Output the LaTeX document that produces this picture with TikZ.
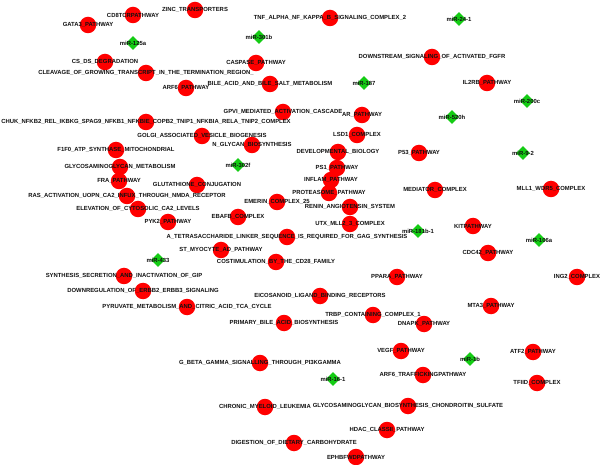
\documentclass[tikz,border=0pt]{standalone}
\usepackage{fontspec}
\setsansfont{Liberation Sans}
\usetikzlibrary{shapes.geometric}
\definecolor{genered}{HTML}{FF0000}
\definecolor{mirgreen}{HTML}{14CC14}
\definecolor{edgeblue}{HTML}{A4A4D4}
\definecolor{ink}{HTML}{111111}
\pgfdeclarelayer{bg}
\pgfsetlayers{bg,main}

% pathways: name/x/y/label
\def\genelist{%
  cdeight/133/15/CD8TCRPATHWAY,
  gata/88/25/GATA3\_PATHWAY,
  csds/105/62/CS\_DS\_DEGRADATION,
  cleav/146/73/CLEAVAGE\_OF\_GROWING\_TRANSCRIPT\_IN\_THE\_TERMINATION\_REGION\_,
  zinc/195/10/ZINC\_TRANSPORTERS,
  tnf/330/18/TNF\_ALPHA\_NF\_KAPPA\_B\_SIGNALING\_COMPLEX\_2,
  casp/256/63/CASPASE\_PATHWAY,
  arfsix/186/88/ARF6\_PATHWAY,
  bile/270/84/BILE\_ACID\_AND\_BILE\_SALT\_METABOLISM,
  gpvi/283/112/GPVI\_MEDIATED\_ACTIVATION\_CASCADE,
  chuk/146/122/CHUK\_NFKB2\_REL\_IKBKG\_SPAG9\_NFKB1\_NFKBIE\_COPB2\_TNIP1\_NFKBIA\_RELA\_TNIP2\_COMPLEX,
  golgi/202/136/GOLGI\_ASSOCIATED\_VESICLE\_BIOGENESIS,
  nglyc/252/145/N\_GLYCAN\_BIOSYNTHESIS,
  ar/362/115/AR\_PATHWAY,
  lsd/357/135/LSD1\_COMPLEX,
  devel/338/152/DEVELOPMENTAL\_BIOLOGY,
  fof/116/150/F1F0\_ATP\_SYNTHASE\_MITOCHONDRIAL,
  gagmet/120/167/GLYCOSAMINOGLYCAN\_METABOLISM,
  fra/119/181/FRA\_PATHWAY,
  glut/197/185/GLUTATHIONE\_CONJUGATION,
  ras/127/196/RAS\_ACTIVATION\_UOPN\_CA2\_INFUX\_THROUGH\_NMDA\_RECEPTOR,
  elev/138/209/ELEVATION\_OF\_CYTOSOLIC\_CA2\_LEVELS,
  pyk/168/222/PYK2\_PATHWAY,
  psone/337/168/PS1\_PATHWAY,
  inflam/331/180/INFLAM\_PATHWAY,
  prot/329/193/PROTEASOME\_PATHWAY,
  renin/350/207/RENIN\_ANGIOTENSIN\_SYSTEM,
  utx/350/224/UTX\_MLL2\_3\_COMPLEX,
  emerin/277/202/EMERIN\_COMPLEX\_25,
  ebaf/238/217/EBAFB\_COMPLEX,
  tetra/287/237/A\_TETRASACCHARIDE\_LINKER\_SEQUENCE\_IS\_REQUIRED\_FOR\_GAG\_SYNTHESIS,
  stmyo/221/250/ST\_MYOCYTE\_AD\_PATHWAY,
  costim/276/262/COSTIMULATION\_BY\_THE\_CD28\_FAMILY,
  synth/124/276/SYNTHESIS\_SECRETION\_AND\_INACTIVATION\_OF\_GIP,
  downreg/143/291/DOWNREGULATION\_OF\_ERBB2\_ERBB3\_SIGNALING,
  pyruv/187/307/PYRUVATE\_METABOLISM\_AND\_CITRIC\_ACID\_TCA\_CYCLE,
  fgfr/432/57/DOWNSTREAM\_SIGNALING\_OF\_ACTIVATED\_FGFR,
  iltwo/487/83/IL2RB\_PATHWAY,
  pfiftythree/419/153/P53\_PATHWAY,
  mediator/435/190/MEDIATOR\_COMPLEX,
  kit/473/226/KITPATHWAY,
  ppara/397/277/PPARA\_PATHWAY,
  mll/551/189/MLL1\_WDR5\_COMPLEX,
  cdc/488/253/CDC42\_PATHWAY,
  ing/577/277/ING2\_COMPLEX,
  eico/320/296/EICOSANOID\_LIGAND\_BINDING\_RECEPTORS,
  trbp/373/315/TRBP\_CONTAINING\_COMPLEX\_1,
  primbile/284/323/PRIMARY\_BILE\_ACID\_BIOSYNTHESIS,
  gbeta/260/363/G\_BETA\_GAMMA\_SIGNALLING\_THROUGH\_PI3KGAMMA,
  cml/265/407/CHRONIC\_MYELOID\_LEUKEMIA,
  digest/294/443/DIGESTION\_OF\_DIETARY\_CARBOHYDRATE,
  ephb/356/457/EPHBFWDPATHWAY,
  gagbio/408/406/GLYCOSAMINOGLYCAN\_BIOSYNTHESIS\_CHONDROITIN\_SULFATE,
  hdac/387/430/HDAC\_CLASSII\_PATHWAY,
  vegf/401/351/VEGF\_PATHWAY,
  arftraf/423/375/ARF6\_TRAFFICKINGPATHWAY,
  dnapk/424/324/DNAPK\_PATHWAY,
  mta/491/306/MTA3\_PATHWAY,
  atf/533/352/ATF2\_PATHWAY,
  tfiid/537/383/TFIID\_COMPLEX}

% microRNAs
\def\mirlist{%
  mira/133/43/miR-125a,
  mirb/259/37/miR-301b,
  mirf/238/165/miR-302f,
  mirc/158/260/miR-433,
  mird/459/19/miR-24-1,
  mire/527/101/miR-200c,
  mirg/452/117/miR-520h,
  mirh/364/83/miR-187,
  miri/523/153/miR-9-2,
  mirj/418/231/miR-181b-1,
  mirk/539/240/miR-106a,
  mirl/333/379/miR-16-1,
  mirm/470/359/miR-1b}

\begin{document}
\begin{tikzpicture}[x=1pt,y=-1pt,
  font=\sffamily\bfseries\fontsize{5.9}{6.5}\selectfont,text=ink,
  gene/.style={circle,fill=genered,minimum size=16.5pt,inner sep=0pt},
  mir/.style={diamond,fill=mirgreen,minimum size=14pt,inner sep=0pt},
  link/.style={edgeblue,line width=0.6pt},
  lab/.style={inner sep=0pt}]
  \fill[white] (0,0) rectangle (600,465);
  \useasboundingbox (0,0) rectangle (600,465);

  \foreach \n/\x/\y/\t in \genelist
    \node[gene] (\n) at (\x,\y) {};
  \foreach \n/\x/\y/\t in \mirlist
    \node[mir] (\n) at (\x,\y) {};

  \begin{pgfonlayer}{bg}
    % the big hub
    \foreach \b in {csds,cleav,casp,arfsix,bile,gpvi,chuk,golgi,nglyc,ar,lsd,
      devel,fof,gagmet,fra,glut,ras,elev,pyk,psone,inflam,prot,renin,utx,
      emerin,ebaf,tetra,stmyo,costim}
      \draw[link] (mirf) -- (\b);
    \foreach \b in {eico,trbp,primbile,gbeta,cml,digest,ephb,gagbio,hdac,vegf}
      \draw[link] (mirl) -- (\b);
    \foreach \a/\b in {mira/cdeight,mira/gata,mira/csds,mira/cleav,
      mirb/zinc,mirb/tnf,mirb/casp,mirh/ar,
      mird/fgfr,mird/iltwo,mirg/fgfr,mirg/iltwo,mire/iltwo,miri/pfiftythree,
      mirj/mediator,mirj/kit,mirj/ppara,mirk/mll,mirk/cdc,mirk/ing,
      mirc/pyk,mirc/stmyo,mirc/elev,mirc/ras,mirc/synth,mirc/downreg,mirc/pyruv,
      mirm/dnapk,mirm/mta,mirm/atf,mirm/arftraf,mirm/tfiid}
      \draw[link] (\a) -- (\b);
  \end{pgfonlayer}

  % labels on top
  \foreach \n/\x/\y/\t in \genelist
    \node[lab] at (\n) {\t};
  \foreach \n/\x/\y/\t in \mirlist
    \node[lab] at (\n) {\t};
\end{tikzpicture}
\end{document}
